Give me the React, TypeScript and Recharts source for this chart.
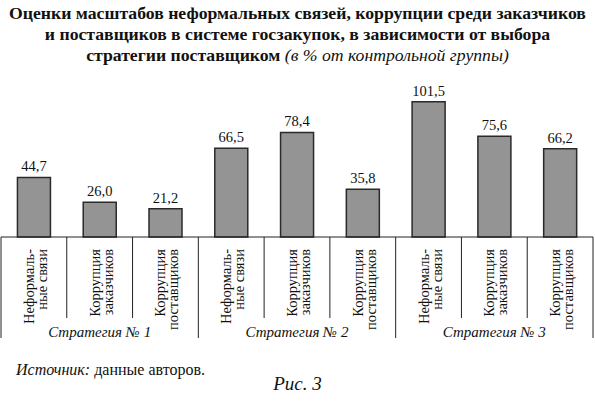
import React from "react";
import { BarChart, Bar, XAxis, YAxis, LabelList } from "recharts";

const categories = [
  "Неформаль-|ные связи",
  "Коррупция|заказчиков",
  "Коррупция|поставщиков",
  "Неформаль-|ные связи",
  "Коррупция|заказчиков",
  "Коррупция|поставщиков",
  "Неформаль-|ные связи",
  "Коррупция|заказчиков",
  "Коррупция|поставщиков",
];
const values = [44.7, 26.0, 21.2, 66.5, 78.4, 35.8, 101.5, 75.6, 66.2];
const groups = ["Стратегия № 1", "Стратегия № 2", "Стратегия № 3"];

const data = categories.map((name, i) => ({ key: `c${i}`, name, value: values[i] }));

const W = 595;
const H = 401;
const M = { top: 77, right: 2, left: 1, bottom: 64 };
const BAND = (W - M.left - M.right) / categories.length;
const SERIF = '"Liberation Serif"';

function Tick(props: any) {
  const { x, y, index } = props;
  const [l1, l2] = categories[index].split("|");
  const left = x - BAND / 2;
  const groupEdge = index % 3 === 0;
  return (
    <g>
      <line x1={left} y1={y} x2={left} y2={y + (groupEdge ? 101 : 81)} stroke="#222" strokeWidth={1} />
      {index === categories.length - 1 && (
        <line x1={x + BAND / 2} y1={y} x2={x + BAND / 2} y2={y + 101} stroke="#222" strokeWidth={1} />
      )}
      <text x={x} y={y + 12} textAnchor="end" transform={`rotate(-90 ${x} ${y + 12})`}
        fontFamily={SERIF} fontSize={14.5} fill="#111">{l1}</text>
      <text x={x + 13} y={y + 12} textAnchor="end" transform={`rotate(-90 ${x + 13} ${y + 12})`}
        fontFamily={SERIF} fontSize={14.5} fill="#111">{l2}</text>
      {index % 3 === 1 && (
        <text x={x} y={y + 100} textAnchor="middle" fontFamily={SERIF} fontStyle="italic"
          fontSize={15} fill="#111">{groups[Math.floor(index / 3)]}</text>
      )}
    </g>
  );
}

export default function App() {
  return (
    <div style={{ position: "absolute", left: 0, top: 0, width: W, height: H, background: "#fff", fontFamily: SERIF, color: "#111" }}>
      <div style={{ position: "absolute", left: 0, top: 3, width: W, textAlign: "center", fontWeight: "bold", fontSize: 17.7, lineHeight: "21px" }}>
        Оценки масштабов неформальных связей, коррупции среди заказчиков<br />
        и поставщиков в системе госзакупок, в зависимости от выбора<br />
        стратегии поставщиком <span style={{ fontWeight: "normal", fontStyle: "italic" }}>(в % от контрольной группы)</span>
      </div>
      <div style={{ position: "absolute", left: 0, top: 0 }}>
        <BarChart width={W} height={H} data={data} margin={M} barCategoryGap="25%">
          <XAxis dataKey="key" interval={0} height={100} tickSize={0} tickMargin={0} tickLine={false}
            axisLine={{ stroke: "#222", strokeWidth: 1.2 }} tick={<Tick />} />
          <YAxis hide domain={[0, 120]} />
          <Bar dataKey="value" fill="#949494" stroke="#2a2a2a" strokeWidth={1.5} isAnimationActive={false}>
            <LabelList dataKey="value" position="top" offset={6} fontFamily={SERIF} fontSize={14.5} fill="#111"
              formatter={(v: any) => Number(v).toFixed(1).replace(".", ",")} />
          </Bar>
        </BarChart>
      </div>
      <div style={{ position: "absolute", left: 16, top: 361, fontSize: 16 }}>
        <i>Источник:</i> данные авторов.
      </div>
      <div style={{ position: "absolute", left: 0, top: 373, width: W, textAlign: "center", fontSize: 19, fontStyle: "italic" }}>
        Рис. 3
      </div>
    </div>
  );
}
